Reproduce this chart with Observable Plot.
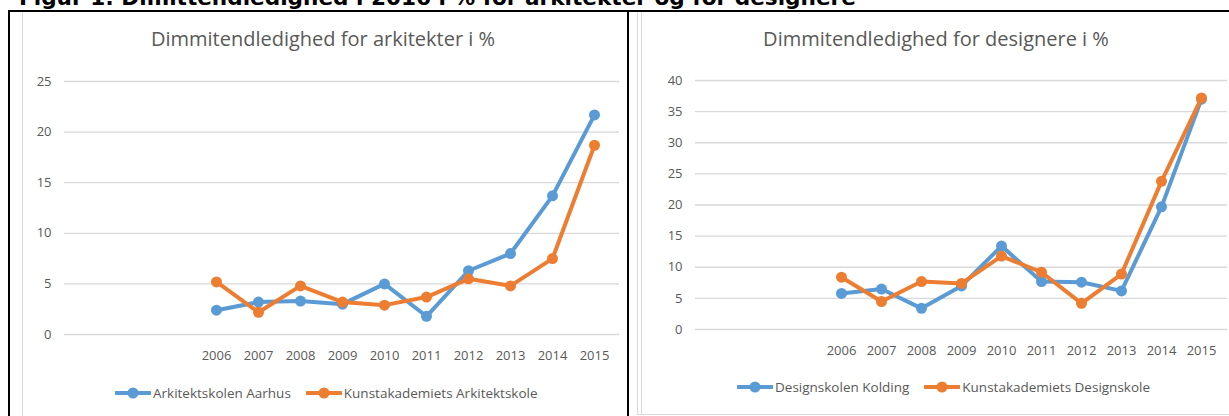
<!DOCTYPE html>
<html>
<head>
<meta charset="utf-8">
<script src="https://cdn.jsdelivr.net/npm/d3@7"></script>
<script src="https://cdn.jsdelivr.net/npm/@observablehq/plot@0.6"></script>
<style>
  html, body { margin: 0; padding: 0; background: #fff; }
  body { position: relative; width: 1229px; height: 416px; overflow: hidden; font-family: "Open Sans", sans-serif; }
  .abs { position: absolute; }
  #page-title { left: 19px; top: -13px; font: bold 21.6px/21.6px "DejaVu Sans", Verdana, sans-serif; color: #000; white-space: nowrap; }
  .frame-top { left: 8px; top: 10px; width: 1240px; height: 2px; background: #000; }
  .frame-left { left: 8px; top: 10px; width: 2px; height: 420px; background: #000; }
  .frame-mid { left: 627px; top: 10px; width: 2px; height: 420px; background: #000; }
  .grey-v { width: 1px; background: #d9d9d9; }
  .grey-h { height: 1px; background: #d9d9d9; }
  .chart-title { font: 20px/20px "Open Sans", sans-serif; color: #595959; white-space: nowrap; transform: translateX(-50%); }
  .legend { display: flex; align-items: center; font: 13.5px/16px "Open Sans", sans-serif; color: #595959; white-space: nowrap; transform: translateY(-50%); }
  .legend .item { display: flex; align-items: center; margin-right: 15px; }
  .legend svg { display: block; margin-right: 2px; }
  .chart { top: 0; }
</style>
</head>
<body>
<div id="page-title" class="abs">Figur 1: Dimittendledighed i 2016 i % for arkitekter og for designere</div>

<div class="abs frame-top"></div>
<div class="abs frame-left"></div>
<div class="abs frame-mid"></div>
<div class="abs grey-v" style="left:22px; top:12px; height:410px;"></div>
<div class="abs grey-v" style="left:637px; top:12px; height:403px;"></div>
<div class="abs grey-v" style="left:641px; top:12px; height:403px;"></div>
<div class="abs grey-h" style="left:637px; top:414px; width:600px;"></div>

<div id="left-chart" class="abs chart" style="left:0px;"></div>
<div id="right-chart" class="abs chart" style="left:629px;"></div>

<div class="abs chart-title" style="left:323px; top:29px;">Dimmitendledighed for arkitekter i %</div>
<div class="abs chart-title" style="left:936px; top:29px;">Dimmitendledighed for designere i %</div>

<div id="left-legend" class="abs legend" style="left:115px; top:393px;"></div>
<div id="right-legend" class="abs legend" style="left:737px; top:387px;"></div>

<script>
// ---- Data ----
// Category slots on the x axis (the original chart has three empty slots before 2006)
const categories = ["", " ", "  ", "2006", "2007", "2008", "2009", "2010", "2011", "2012", "2013", "2014", "2015"];
const years = ["2006", "2007", "2008", "2009", "2010", "2011", "2012", "2013", "2014", "2015"];

// Arkitekter (%)
const arkSeries = ["Arkitektskolen Aarhus", "Kunstakademiets Arkitektskole"];
const arkitektskolenAarhus = [2.4, 3.2, 3.3, 3.0, 5.0, 1.8, 6.3, 8.0, 13.7, 21.7];
const kunstakademietsArkitektskole = [5.2, 2.2, 4.8, 3.2, 2.9, 3.7, 5.5, 4.8, 7.5, 18.7];
const arkYTicks = [0, 5, 10, 15, 20, 25];

// Designere (%)
const desSeries = ["Designskolen Kolding", "Kunstakademiets Designskole"];
const designskolenKolding = [5.8, 6.5, 3.4, 7.0, 13.4, 7.7, 7.6, 6.2, 19.7, 37.0];
const kunstakademietsDesignskole = [8.4, 4.5, 7.7, 7.4, 11.8, 9.2, 4.2, 8.9, 23.8, 37.2];
const desYTicks = [0, 5, 10, 15, 20, 25, 30, 35, 40];

// Palette
const palette = ["#5B9BD5", "#ED7D31"];
const textColor = "#595959";
const gridColor = "#d9d9d9";

function toRows(seriesNames, valueLists) {
  return seriesNames.flatMap((name, s) =>
    years.map((year, i) => ({ year, series: name, value: valueLists[s][i] }))
  );
}

function makeChart({ rows, seriesNames, yTicks, width, height, marginLeft, marginRight, marginTop, marginBottom }) {
  const seriesMarks = seriesNames.flatMap((name) => {
    const subset = rows.filter((d) => d.series === name);
    return [
      Plot.line(subset, { x: "year", y: "value", stroke: "series", strokeWidth: 4, strokeLinejoin: "round", strokeLinecap: "round" }),
      Plot.dot(subset, { x: "year", y: "value", fill: "series", r: 5.5, stroke: "none" })
    ];
  });
  return Plot.plot({
    width, height, marginLeft, marginRight, marginTop, marginBottom,
    style: { fontFamily: "'Open Sans', sans-serif", fontSize: "13px", color: textColor, background: "transparent", overflow: "visible" },
    x: { type: "point", domain: categories, padding: 0.5, label: null },
    y: { domain: [yTicks[0], yTicks[yTicks.length - 1]], label: null },
    color: { domain: seriesNames, range: palette },
    marks: [
      Plot.gridY(yTicks, { stroke: gridColor, strokeOpacity: 1, strokeWidth: 1.3 }),
      Plot.axisY(yTicks, { tickSize: 0, tickPadding: 13, fill: textColor, fontSize: 13, label: null }),
      Plot.axisX(years, { tickSize: 0, tickPadding: 16, fill: textColor, fontSize: 13, label: null }),
      ...seriesMarks
    ]
  });
}

document.getElementById("left-chart").appendChild(makeChart({
  rows: toRows(arkSeries, [arkitektskolenAarhus, kunstakademietsArkitektskole]),
  seriesNames: arkSeries, yTicks: arkYTicks,
  width: 627, height: 416, marginLeft: 64, marginRight: 8, marginTop: 81, marginBottom: 82
}));

document.getElementById("right-chart").appendChild(makeChart({
  rows: toRows(desSeries, [designskolenKolding, kunstakademietsDesignskole]),
  seriesNames: desSeries, yTicks: desYTicks,
  width: 600, height: 416, marginLeft: 66, marginRight: 2, marginTop: 80, marginBottom: 87
}));

function makeLegend(el, seriesNames) {
  seriesNames.forEach((name, i) => {
    const item = document.createElement("div");
    item.className = "item";
    item.innerHTML =
      `<svg width="36" height="12"><line x1="1" x2="35" y1="6" y2="6" stroke="${palette[i]}" stroke-width="4" stroke-linecap="round"/>` +
      `<circle cx="18" cy="6" r="5.5" fill="${palette[i]}"/></svg><span>${name}</span>`;
    el.appendChild(item);
  });
}
makeLegend(document.getElementById("left-legend"), arkSeries);
makeLegend(document.getElementById("right-legend"), desSeries);
</script>
</body>
</html>
